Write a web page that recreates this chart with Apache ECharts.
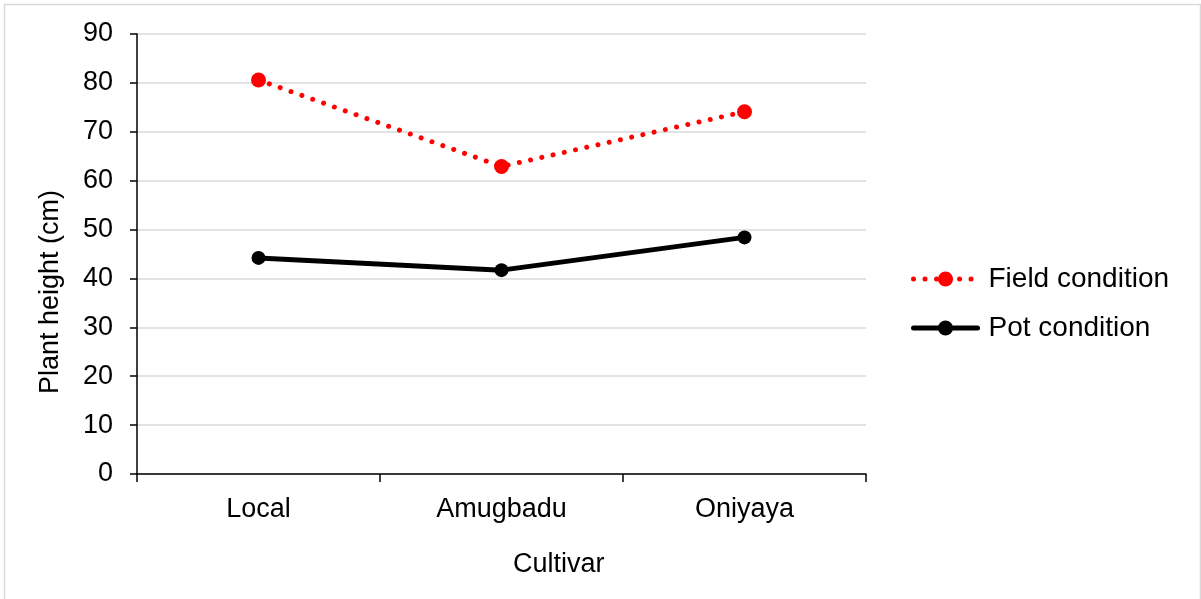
<!DOCTYPE html>
<html>
<head>
<meta charset="utf-8">
<script src="https://cdn.jsdelivr.net/npm/echarts@6/dist/echarts.min.js"></script>
<style>
  html, body { margin: 0; padding: 0; background: #fff; }
  #chart { width: 1201px; height: 599px; }
</style>
</head>
<body>
<div id="chart"></div>
<script>
// Plant height per cultivar under two growing conditions
const cultivars = ['Local', 'Amugbadu', 'Oniyaya'];
const fieldCondition = [80.6, 62.9, 74.1];
const potCondition = [44.2, 41.7, 48.4];
const yTicks = { min: 0, max: 90, interval: 10 };

const FONT = '"Liberation Sans", Arial, sans-serif';
const FS = 27;
const chart = echarts.init(document.getElementById('chart'));

chart.setOption({
  animation: false,
  backgroundColor: '#ffffff',
  grid: { left: 137, right: 335, top: 34, bottom: 125, containLabel: false },
  xAxis: {
    type: 'category',
    data: cultivars,
    boundaryGap: true,
    axisLine: { lineStyle: { color: '#000', width: 1.5 } },
    axisTick: { show: true, length: 8, lineStyle: { color: '#000', width: 1.5 } },
    axisLabel: { color: '#000', fontFamily: FONT, fontSize: FS, margin: 22 },
    splitLine: { show: false }
  },
  yAxis: {
    type: 'value',
    min: yTicks.min,
    max: yTicks.max,
    interval: yTicks.interval,
    axisLine: { show: true, lineStyle: { color: '#000', width: 1.5 } },
    axisTick: { show: true, length: 7, lineStyle: { color: '#000', width: 1.5 } },
    axisLabel: { color: '#000', fontFamily: FONT, fontSize: FS, margin: 24 },
    splitLine: { show: true, lineStyle: { color: '#d9d9d9', width: 1.5 } }
  },
  legend: {
    orient: 'vertical',
    left: 906,
    top: 260,
    itemWidth: 64,
    itemHeight: 19,
    itemGap: 21,
    lineStyle: { width: 'inherit' },
    textStyle: { color: '#000', fontFamily: FONT, fontSize: 28, padding: [0, 0, 0, 6] },
    data: ['Field condition', 'Pot condition']
  },
  series: [
    {
      name: 'Field condition',
      type: 'line',
      data: fieldCondition,
      symbol: 'circle',
      symbolSize: 15,
      itemStyle: { color: '#ff0000' },
      lineStyle: { color: '#ff0000', width: 5, type: [0.01, 11.5], cap: 'round' }
    },
    {
      name: 'Pot condition',
      type: 'line',
      data: potCondition,
      symbol: 'circle',
      symbolSize: 14,
      itemStyle: { color: '#000000' },
      lineStyle: { color: '#000000', width: 5, cap: 'round' }
    }
  ],
  graphic: [
    {
      type: 'rect',
      silent: true,
      shape: { x: 4.5, y: 4.5, width: 1196, height: 600 },
      style: { fill: 'none', stroke: '#d9d9d9', lineWidth: 1.5 }
    },
    {
      type: 'text',
      left: 513,
      top: 551,
      style: { text: 'Cultivar', fill: '#000', font: FS + 'px ' + FONT }
    },
    {
      type: 'text',
      x: 37,
      y: 394,
      rotation: Math.PI / 2,
      style: { text: 'Plant height (cm)', fill: '#000', font: FS + 'px ' + FONT, textAlign: 'left', textVerticalAlign: 'top' }
    }
  ]
});
</script>
</body>
</html>
